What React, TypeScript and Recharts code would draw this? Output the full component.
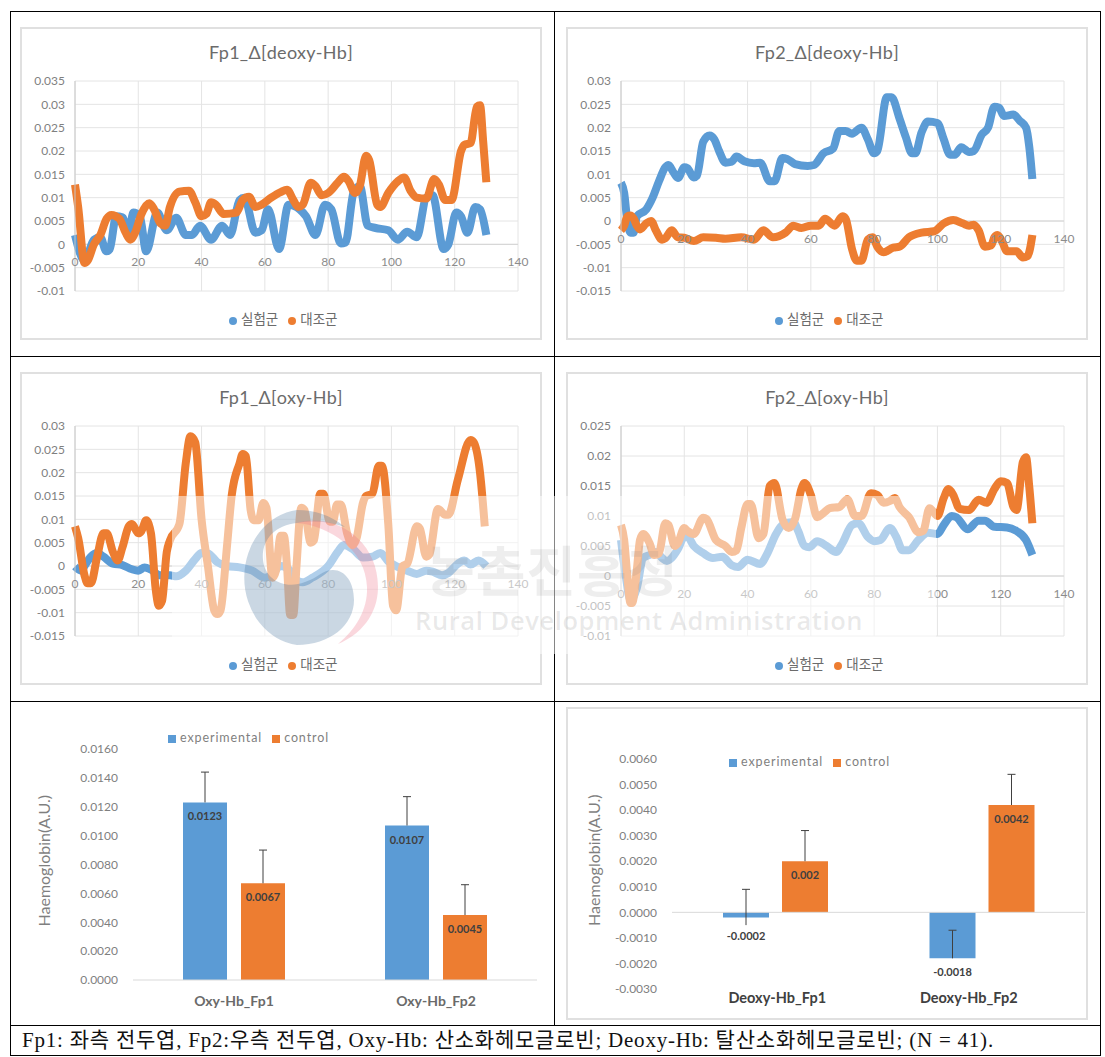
// App.tsx
import {
  Bar,
  BarChart,
  CartesianGrid,
  ErrorBar,
  LabelList,
  Legend,
  Line,
  LineChart,
  ReferenceLine,
  XAxis,
  YAxis,
} from 'recharts';

const BLUE = '#5B9BD5';
const ORANGE = '#ED7D31';
const FONT = 'Lato, "Noto Sans CJK KR", sans-serif';

const xTicks = [0, 20, 40, 60, 80, 100, 120, 140];
const ticksA = [-0.01, -0.005, 0, 0.005, 0.01, 0.015, 0.02, 0.025, 0.03, 0.035];
const ticksB = [-0.015, -0.01, -0.005, 0, 0.005, 0.01, 0.015, 0.02, 0.025, 0.03];
const ticksC = [-0.01, -0.005, 0, 0.005, 0.01, 0.015, 0.02, 0.025];

// [time, value] at the turning points of each curve
const fp1DeoxyExp = [[0,.002],[3,-.0035],[6,.001],[8,.0015],[9.9,-.0015],[11,-.001],[13,.006],[15,.0058],[17,.002],[18.4,.0068],[20.5,.006],[22.5,-.0015],[26,.0068],[29,.003],[32,.0057],[35,.002],[37,.002],[39.5,.004],[43,.001],[46.5,.004],[49,.002],[52,.0095],[53.5,.01],[57,.0025],[59,.003],[61,.0075],[64.5,-.001],[67.5,.0085],[71,.0075],[73,.006],[76,.002],[79,.0085],[81,.0075],[84,.0002],[85.5,.0004],[88,.011],[90,.0125],[92.5,.004],[95,.0035],[99,.003],[102,.001],[105,.0027],[108,.0015],[111,.01],[113,.0105],[116.5,-.001],[118,0],[120.5,.0068],[122,.006],[124,.0025],[126.5,.008],[128,.0075],[130,.002]];
const fp1DeoxyCtl = [[0,.0128],[1,.008],[3,-.004],[4,-.0035],[6,0],[8,.002],[10,.0055],[11.5,.0063],[14,.0055],[16,.0025],[17.5,.001],[19,.0025],[21,.0065],[23.5,.0088],[25,.0075],[27,.0045],[28.5,.004],[30,.008],[33,.0113],[36,.0115],[38,.009],[40,.006],[41.5,.0065],[43,.009],[44.5,.0085],[47,.0065],[51,.0068],[53,.0095],[55,.0102],[57,.008],[59,.0085],[62,.01],[65,.0112],[67,.0117],[69,.0095],[70.5,.008],[72,.0085],[74.5,.0132],[76,.0125],[78,.0105],[80,.011],[83,.0132],[85,.0145],[86.5,.0135],[88.5,.011],[90,.0125],[92,.019],[93,.018],[95.5,.0085],[96.5,.008],[99,.011],[102,.0135],[104,.0143],[106,.0115],[108,.01],[111,.0098],[113.5,.014],[115,.0128],[117,.0095],[119,.0095],[122,.02],[123,.0213],[125,.0217],[127,.0295],[128,.0298],[129,.022],[130,.0133]];

const fp2DeoxyExp = [[0,.0082],[1,.006],[2,0],[3,-.0025],[4,-.0025],[5,.001],[8,.0025],[10,.005],[12,.0085],[14,.0115],[15,.012],[16.5,.0105],[18,.0092],[20,.0115],[21,.0113],[23,.0093],[24,.0097],[26,.017],[28,.0183],[29.5,.0175],[31,.015],[33,.0125],[35,.0127],[36.5,.0138],[39,.0128],[42,.0124],[44,.0125],[47,.0085],[48.5,.0085],[51,.0135],[52.5,.0133],[55,.0122],[59,.0118],[61,.012],[64,.0145],[67,.0155],[69,.0193],[71,.0193],[73,.0187],[76,.02],[78,.0175],[80,.0145],[81,.015],[84,.0265],[85.5,.0265],[88,.022],[90,.018],[92,.0145],[93,.0145],[95,.019],[97,.0213],[100,.021],[102,.0175],[104,.0142],[105.5,.0142],[107.5,.0158],[110,.0148],[111.5,.015],[114,.0185],[116,.02],[118,.0245],[119.5,.0243],[121,.0225],[124,.0228],[126,.0215],[128,.02],[129,.016],[130,.009]];
const fp2DeoxyCtl = [[0,-.002],[1,-.001],[2,.001],[3,.0012],[4,.0005],[5,-.001],[6,-.0018],[8,-.0005],[9.5,0],[11,-.002],[13,-.004],[14,-.0037],[16,-.002],[18,-.0035],[20,-.0036],[23,-.0043],[26,-.0035],[30,-.0036],[33,-.0038],[38,-.0035],[42,-.004],[45,-.002],[48,-.0035],[52,-.0025],[54.5,-.001],[57,-.0015],[60,-.001],[62.5,-.001],[64.5,.0005],[67.5,-.001],[70,.001],[71,.0005],[73,-.006],[74.5,-.0085],[76,-.0085],[78,-.004],[79.5,-.0035],[81,-.0055],[83,-.0067],[86,-.0057],[88,-.0055],[91,-.0035],[95,-.0025],[99,-.0022],[102,-.0005],[105,.0002],[108,-.0005],[110,-.001],[111.5,-.0008],[113,-.002],[115,-.0055],[117,-.0052],[118,-.0035],[119,-.003],[120.5,-.0045],[122,-.0065],[125,-.0065],[127,-.0078],[128.5,-.0075],[130,-.003]];

const fp1OxyExp = [[0,-.0001],[2,-.001],[3,0],[5,.002],[7,.0028],[9,.002],[12,.0005],[15,.0002],[18,-.0007],[20,-.001],[22,-.0003],[24,-.0008],[27,-.002],[30,-.002],[32,-.0022],[35,-.001],[38,.0015],[40,.0028],[42,.0027],[45,.0008],[48,0],[52,-.0003],[56,-.001],[60,-.0025],[62,-.002],[65,0],[68,-.001],[70,-.003],[72,-.0035],[75,-.0025],[80,0],[83,.003],[85,.0045],[88,.0035],[91,.0018],[94,.002],[96.5,.0028],[99,.001],[102,-.0002],[105,-.001],[108,-.0017],[111,-.001],[113,-.0012],[116,-.002],[118,-.0015],[121,.0005],[123,.0012],[125,.0003],[127.5,.0012],[130,0]];
const fp1OxyCtl = [[0,.0085],[1,.006],[3,-.002],[4,-.0037],[5,-.0037],[7,.002],[9,.007],[10,.007],[12,.003],[13.5,.0012],[15,.004],[17,.0085],[18,.009],[20,.007],[21,.0075],[22.5,.0098],[24,.007],[25.5,-.005],[26.5,-.0085],[27.5,-.0075],[29,.003],[30,.0055],[33,.009],[35,.022],[36.5,.0278],[38,.0265],[40,.01],[42,0],[44,-.0095],[45,-.0103],[46,-.0095],[48,.004],[49.5,.015],[52,.022],[53,.024],[54,.0235],[55.5,.012],[56.5,.0098],[58,.0098],[59.5,.0135],[60.5,.0125],[62.4,-.0025],[63.5,-.001],[65,.0065],[66,.0065],[67,0],[68,-.0105],[69,-.0105],[70,0],[71.5,.0125],[72.5,.012],[74.5,.005],[75.5,.0055],[77.5,.0155],[78.5,.0155],[80.5,.0095],[81.5,.0095],[82.8,.0132],[84,.0132],[86,.007],[87.7,.0045],[89,.006],[91,.0135],[92,.015],[94,.0155],[96,.0215],[97,.0215],[99,.009],[100.5,-.0085],[101.5,-.0095],[103.5,0],[105,.0005],[108,.0085],[109,.008],[111,.002],[112,.0025],[114.7,.0122],[117,.011],[118,.011],[121,.0185],[125,.027],[126,.0265],[128,.02],[129.5,.0085]];

const fp2OxyExp = [[0,.006],[1.5,0],[3,-.004],[5,-.002],[7,.003],[9,.0035],[11,.004],[13,.003],[14.5,.0025],[16,.003],[18,.0045],[20,.0065],[21,.0065],[23,.005],[26,.0038],[29,.003],[32,.0032],[35,.0018],[37,.0015],[40,.0027],[44,.002],[46,.0035],[49,.007],[51,.0085],[54.5,.009],[56,.0075],[58,.005],[59.5,.0048],[62,.0058],[65,.005],[68,.004],[70,.0055],[73,.0085],[75,.0088],[78,.0065],[80,.0058],[82,.006],[85,.008],[87,.0065],[89,.0043],[91,.0043],[94,.006],[97,.0072],[100,.007],[102,.0085],[104.5,.01],[106,.0098],[109.5,.0078],[113,.0092],[115,.0092],[118,.0082],[122,.0081],[125,.0075],[128,.006],[130,.0035]];
const fp2OxyCtl = [[0,.0085],[1,.006],[2,0],[3,-.0045],[3.5,-.0045],[5,.001],[6,.006],[7,.007],[9,.0055],[10.5,.0035],[12,.0038],[14,.0088],[15,.0085],[17,.005],[18,.0055],[20,.008],[21,.0075],[23,.007],[26,.0097],[27,.0095],[30,.006],[33,.005],[35,.004],[36.5,.0043],[38,.008],[40,.012],[41,.012],[43.5,.0063],[45,.007],[47,.015],[48.5,.0155],[51,.0095],[53,.008],[55,.0095],[57,.0145],[58,.0155],[60,.0135],[62,.0098],[64,.0105],[66,.0113],[69,.0115],[71.5,.0128],[74,.01],[76,.01],[79,.0138],[81,.0135],[83,.0122],[85,.0125],[86.5,.013],[88,.0115],[91,.0098],[94,.0073],[95.5,.0075],[97.5,.0113],[99,.0105],[100,.01],[102,.013],[103.5,.0145],[105,.0135],[107,.0112],[110,.011],[113,.0127],[115.5,.0122],[118,.0145],[120,.0158],[122,.0155],[124,.0115],[125,.011],[127,.019],[128,.0198],[129,.015],[130,.0088]];

const oxyCategories = ['Oxy-Hb_Fp1', 'Oxy-Hb_Fp2'];
const oxyExperimental = [0.0123, 0.0107];
const oxyControl = [0.0067, 0.0045];
const oxyExpError = [0.0021, 0.002];
const oxyCtlError = [0.0023, 0.0021];
const oxyTicks = [0, 0.002, 0.004, 0.006, 0.008, 0.01, 0.012, 0.014, 0.016];

const deoxyCategories = ['Deoxy-Hb_Fp1', 'Deoxy-Hb_Fp2'];
const deoxyExperimental = [-0.0002, -0.0018];
const deoxyControl = [0.002, 0.0042];
const deoxyExpError = [0.0011, 0.0011];
const deoxyCtlError = [0.0012, 0.0012];
const deoxyTicks = [-0.003, -0.002, -0.001, 0, 0.001, 0.002, 0.003, 0.004, 0.005, 0.006];

const toPoints = (pairs: number[][]) => pairs.map(([x, y]) => ({x, y}));

function LinePanel({left, top, title, exp, ctl, yTicks}: {
  left: number; top: number; title: string; exp: number[][]; ctl: number[][]; yTicks: number[];
}) {
  const W = 522;
  const H = 313;
  const plotH = 210;
  const yMin = yTicks[0];
  const yMax = yTicks[yTicks.length - 1];
  const zeroUp = (plotH * -yMin) / (yMax - yMin);

  const xTick = (p: any) => (
    <text x={p.x} y={p.y - zeroUp + 14} textAnchor="middle" fontSize={12} fill="#8c8c8c" fontFamily={FONT}>
      {p.payload.value}
    </text>
  );

  return (
    <div style={{position: 'absolute', left, top, width: W, height: H, border: '2px solid #e0e0e0', boxSizing: 'border-box', background: '#fff'}}>
      <div style={{position: 'absolute', left: 0, right: 0, top: 12, textAlign: 'center', fontFamily: FONT, fontSize: 18, color: '#6b6b6b', letterSpacing: 0.3}}>
        {title}
      </div>
      <LineChart width={W - 4} height={H - 4} margin={{top: 52, right: 22, bottom: 2, left: 3}}>
        <CartesianGrid stroke="#e4e4e4" horizontalValues={yTicks} verticalValues={xTicks} />
        <XAxis dataKey="x" type="number" domain={[0, 140]} ticks={xTicks} axisLine={false} tickLine={false} tick={xTick} height={25} />
        <YAxis type="number" domain={[yMin, yMax]} ticks={yTicks} width={50} axisLine={{stroke: '#c8c8c8'}} tickLine={false} tickMargin={4} tick={{fontSize: 12, fill: '#7f7f7f', fontFamily: FONT}} interval={0} />
        <ReferenceLine y={0} stroke="#d4d4d4" />
        <Legend verticalAlign="bottom" iconType="circle" iconSize={8} itemSorter={null} wrapperStyle={{fontFamily: FONT, fontSize: 13.5, left: 207, bottom: 10, width: 'auto'}} formatter={(v: string) => <span style={{color: '#6b6b6b'}}>{v}</span>} />
        <Line data={toPoints(exp)} dataKey="y" name="실험군" type="monotone" stroke={BLUE} strokeWidth={8} dot={false} isAnimationActive={false} />
        <Line data={toPoints(ctl)} dataKey="y" name="대조군" type="monotone" stroke={ORANGE} strokeWidth={8} dot={false} isAnimationActive={false} />
      </LineChart>
    </div>
  );
}

const barLabel = (p: any) => {
  const bottom = Math.max(p.y, p.y + p.height);
  const top = Math.min(p.y, p.y + p.height);
  const below = p.value < -0.001 ? 18 : 23;
  const ty = p.value < 0 ? bottom + below : top + 18;
  return (
    <text x={p.x + p.width / 2} y={ty} textAnchor="middle" fontSize={11} fontWeight={700} fill="#404040" fontFamily={FONT}>
      {p.value}
    </text>
  );
};

function BarPanel({left, top, width, height, framed, categories, exp, ctl, expErr, ctlErr, yTicks, margin, labelColor, labelSize, barSize, barGap, legendPos, tickShift, tickDy, yLabelOffset, yLabelDy}: any) {
  const data = categories.map((name: string, i: number) => ({
    name,
    experimental: exp[i],
    control: ctl[i],
    expError: [exp[i] < 0 && exp[i] + expErr[i] > 0 ? 0.0003 : 0, expErr[i]],
    ctlError: [0, ctlErr[i]],
  }));
  const catTick = (p: any) => (
    <text x={p.x + tickShift[p.index]} y={p.y + tickDy} textAnchor="middle" fontSize={labelSize} fontWeight={700} fill={labelColor} fontFamily={FONT}>
      {p.payload.value}
    </text>
  );
  return (
    <div style={{position: 'absolute', left, top, width, height, border: framed ? '2px solid #e0e0e0' : 'none', boxSizing: 'border-box', background: '#fff'}}>
      <BarChart width={width - (framed ? 4 : 0)} height={height - (framed ? 4 : 0)} data={data} margin={margin} barSize={barSize} barGap={barGap}>
        <XAxis dataKey="name" axisLine={false} tickLine={false} tick={catTick} height={24} interval={0} />
        <YAxis type="number" domain={[yTicks[0], yTicks[yTicks.length - 1]]} ticks={yTicks} interval={0} width={60} axisLine={false} tickLine={false} tickMargin={9}
          tickFormatter={(v: number) => v.toFixed(4)} tick={{fontSize: 12, fill: '#7f7f7f', fontFamily: FONT}}
          label={{value: 'Haemoglobin(A.U.)', angle: -90, position: 'insideLeft', offset: yLabelOffset, dy: yLabelDy, fontSize: 16, fill: '#7f7f7f', fontFamily: FONT}} />
        <ReferenceLine y={0} stroke="#d9d9d9" />
        <Legend verticalAlign="top" iconType="square" iconSize={8} itemSorter={null} wrapperStyle={{fontFamily: FONT, fontSize: 12.5, letterSpacing: 0.9, ...legendPos}} formatter={(v: string) => <span style={{color: '#7f7f7f'}}>{v}</span>} />
        <Bar dataKey="experimental" fill={BLUE} isAnimationActive={false}>
          <ErrorBar dataKey="expError" width={4} stroke="#404040" strokeWidth={1} direction="y" isAnimationActive={false} />
          <LabelList dataKey="experimental" content={barLabel} />
        </Bar>
        <Bar dataKey="control" fill={ORANGE} isAnimationActive={false}>
          <ErrorBar dataKey="ctlError" width={4} stroke="#404040" strokeWidth={1} direction="y" isAnimationActive={false} />
          <LabelList dataKey="control" content={barLabel} />
        </Bar>
      </BarChart>
    </div>
  );
}

const hLines = [11, 356, 701, 1025, 1055];
const vLines = [10, 554, 1100];

function Watermark() {
  return (
    <svg width={1105} height={1057} style={{position: 'absolute', left: 0, top: 0, pointerEvents: 'none'}}>
      <rect x={172} y={496} width={764} height={158} fill="#fff" fillOpacity={0.52} />
      <path d="M297 510 A60 68 0 0 0 297 645 C330 645 354 625 354 600 C354 582 345 570 333 570 C322 570 318 578 305 582 C285 590 265 580 263 560 C261 540 275 525 297 523 C315 520 330 522 345 527 C330 515 315 510 297 510 Z" fill="#3f6f9b" fillOpacity={0.28} />
      <path d="M297 523 C335 512 378 540 378 587 C378 615 360 635 338 644 C355 630 368 610 367 587 C366 550 330 526 297 523 Z" fill="#ee6f85" fillOpacity={0.28} />
      <text x={425} y={592} fontFamily='"Noto Sans CJK KR"' fontSize={54} fontWeight={700} fill="#777" fillOpacity={0.12} letterSpacing={1}>농촌진흥청</text>
      <text x={415} y={630} fontFamily="'Open Sans'" fontSize={25.5} fontWeight={600} fill="#777" fillOpacity={0.16} letterSpacing={0.6}>Rural Development Administration</text>
    </svg>
  );
}

export default function App() {
  return (
    <div style={{position: 'absolute', left: 0, top: 0, width: 1105, height: 1057, background: '#fff', overflow: 'hidden'}}>
      <style>{'.recharts-errorBar line:nth-of-type(3){display:none}'}</style>
      <LinePanel left={20} top={27} title="Fp1_Δ[deoxy-Hb]" exp={fp1DeoxyExp} ctl={fp1DeoxyCtl} yTicks={ticksA} />
      <LinePanel left={566} top={27} title="Fp2_Δ[deoxy-Hb]" exp={fp2DeoxyExp} ctl={fp2DeoxyCtl} yTicks={ticksB} />
      <LinePanel left={20} top={372} title="Fp1_Δ[oxy-Hb]" exp={fp1OxyExp} ctl={fp1OxyCtl} yTicks={ticksB} />
      <LinePanel left={566} top={372} title="Fp2_Δ[oxy-Hb]" exp={fp2OxyExp} ctl={fp2OxyCtl} yTicks={ticksC} />

      <BarPanel left={11} top={702} width={543} height={322} categories={oxyCategories} exp={oxyExperimental} ctl={oxyControl} expErr={oxyExpError} ctlErr={oxyCtlError} yTicks={oxyTicks}
        margin={{top: 32, right: 17, bottom: 20, left: 62}} labelColor="#6a6a6a" labelSize={14} barSize={44} barGap={14} legendPos={{left: 157, top: 28, width: 'auto'}} tickShift={[0, 0]} tickDy={18} yLabelOffset={-29} yLabelDy={62} />
      <BarPanel left={566} top={707} width={522} height={313} framed categories={deoxyCategories} exp={deoxyExperimental} ctl={deoxyControl} expErr={deoxyExpError} ctlErr={deoxyCtlError} yTicks={deoxyTicks}
        margin={{top: 35, right: 1, bottom: 5, left: 44}} labelColor="#404040" labelSize={14.5} barSize={46} barGap={13} legendPos={{left: 161, top: 45, width: 'auto'}} tickShift={[2, -13]} tickDy={6} yLabelOffset={-18} yLabelDy={52} />

      {hLines.map(y => <div key={y} style={{position: 'absolute', left: 10, top: y, width: 1091, height: 1, background: '#000'}} />)}
      {vLines.map(x => <div key={x} style={{position: 'absolute', left: x, top: 11, width: 1, height: x === 554 ? 1014 : 1045, background: '#000'}} />)}

      <Watermark />

      <div style={{position: 'absolute', left: 22, top: 1028, fontFamily: '"Liberation Serif", "Noto Sans CJK KR", serif', fontSize: 21, letterSpacing: 0.78, color: '#111', whiteSpace: 'nowrap', lineHeight: '24px'}}>
        Fp1: 좌측 전두엽, Fp2:우측 전두엽, Oxy-Hb: 산소화헤모글로빈; Deoxy-Hb: 탈산소화헤모글로빈; (N = 41).
      </div>
    </div>
  );
}
